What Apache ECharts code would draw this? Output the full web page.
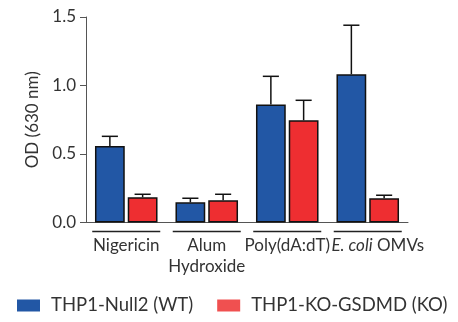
<!DOCTYPE html>
<html>
<head>
<meta charset="utf-8">
<script src="https://cdn.jsdelivr.net/npm/echarts@6/dist/echarts.min.js"></script>
<style>html,body{margin:0;padding:0;background:#fff}#c{width:458px;height:322px}</style>
</head>
<body>
<div id="c"></div>
<script>
const categories = ['Nigericin', 'Alum\nHydroxide', 'Poly(dA:dT)', 'E. coli OMVs'];
const seriesNames = ['THP1-Null2 (WT)', 'THP1-KO-GSDMD (KO)'];
const wtMean = [0.558, 0.147, 0.862, 1.082];
const wtSd = [0.071, 0.030, 0.205, 0.358];
const koMean = [0.184, 0.162, 0.746, 0.177];
const koSd = [0.022, 0.044, 0.146, 0.022];
const yTicks = [0, 0.5, 1.0, 1.5];

const BLUE = '#2257A5', RED = '#EE2E31', LEG_RED = '#F05050';
const FONT = 'Lato';
const BARW = 0.37, GAP = 0.1;

function errSeries(means, sds, side) {
  return {
    type: 'custom', z: 5, silent: true,
    data: means.map((m, i) => [i, m, m + sds[i]]),
    renderItem: function (params, api) {
      const band = api.size([1, 0])[0];
      const bw = band * BARW;
      const off = side * (bw + bw * GAP) / 2;
      const p0 = api.coord([api.value(0), api.value(1)]);
      const p1 = api.coord([api.value(0), api.value(2)]);
      const x = p0[0] + off;
      const cap = band * 0.1;
      const st = { stroke: '#111', lineWidth: 1.5 };
      return { type: 'group', children: [
        { type: 'line', shape: { x1: x, y1: p0[1], x2: x, y2: p1[1] }, style: st },
        { type: 'line', shape: { x1: x - cap, y1: p1[1], x2: x + cap, y2: p1[1] }, style: st }
      ]};
    }
  };
}

const chart = echarts.init(document.getElementById('c'));
chart.setOption({
  animation: false,
  grid: { left: 86, right: 50, top: 17, bottom: 99.5, containLabel: false },
  legend: {
    left: 12, top: 289, width: 446, itemWidth: 23, itemHeight: 12, itemGap: 24,
    icon: 'rect',
    textStyle: { fontFamily: FONT, fontSize: 18.5, color: '#333', padding: [0, 0, 0, 6], lineHeight: 23 },
    data: [
      { name: seriesNames[0], itemStyle: { color: BLUE, borderWidth: 0 } },
      { name: seriesNames[1], itemStyle: { color: LEG_RED, borderWidth: 0 } }
    ]
  },
  xAxis: {
    type: 'category', data: categories,
    axisLine: { lineStyle: { color: '#555', width: 1 } },
    axisTick: { show: false },
    axisLabel: {
      margin: 13, fontFamily: FONT, fontSize: 17, color: '#333', lineHeight: 21, interval: 0,
      formatter: function (v) { return v.indexOf('E. coli') === 0 ? '{i|E. coli}{n|' + v.slice(7) + '}' : v; },
      rich: {
        i: { fontFamily: FONT, fontStyle: 'italic', fontSize: 17, color: '#333', padding: [0, 0, 0, 20] },
        n: { fontFamily: FONT, fontSize: 17, color: '#333' }
      }
    }
  },
  yAxis: {
    type: 'value', min: 0, max: 1.5, interval: 0.5,
    name: 'OD (630 nm)', nameLocation: 'middle', nameGap: 43,
    nameTextStyle: { fontFamily: FONT, fontSize: 17, color: '#333' },
    axisLine: { show: true, lineStyle: { color: '#555', width: 1 } },
    axisTick: { show: true, length: 6, lineStyle: { color: '#555' } },
    splitLine: { show: false },
    axisLabel: {
      margin: 10, fontFamily: FONT, fontSize: 17, color: '#333',
      formatter: function (v) { const t = yTicks.find(x => Math.abs(x - v) < 1e-9); return (t !== undefined ? t : v).toFixed(1); }
    }
  },
  series: [
    { name: seriesNames[0], type: 'bar', data: wtMean, barWidth: (BARW * 100) + '%', barGap: (GAP * 100) + '%',
      itemStyle: { color: BLUE, borderColor: '#111', borderWidth: 1.5 } },
    { name: seriesNames[1], type: 'bar', data: koMean, barWidth: (BARW * 100) + '%', barGap: (GAP * 100) + '%',
      itemStyle: { color: RED, borderColor: '#111', borderWidth: 1.5 } },
    errSeries(wtMean, wtSd, -1),
    errSeries(koMean, koSd, 1),
    {
      type: 'custom', silent: true, clip: false,
      data: categories.map((c, i) => [i, 0]),
      renderItem: function (params, api) {
        const band = api.size([1, 0])[0];
        const p = api.coord([api.value(0), 0]);
        const h = band * 0.4225;
        return { type: 'line', shape: { x1: p[0] - h, y1: p[1] + 9, x2: p[0] + h, y2: p[1] + 9 },
          style: { stroke: '#222', lineWidth: 1.5 } };
      }
    }
  ]
});
</script>
</body>
</html>
